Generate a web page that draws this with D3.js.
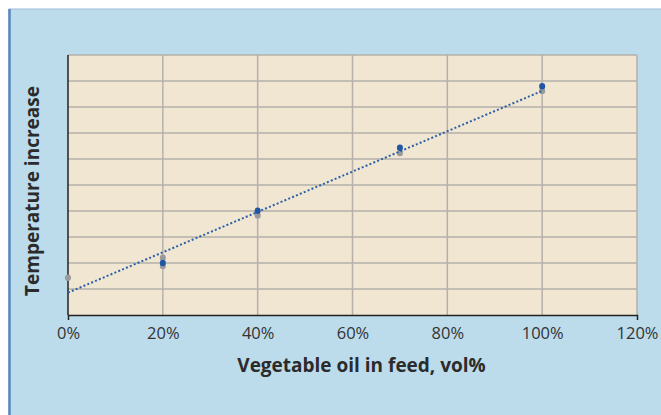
<!DOCTYPE html>
<meta charset="utf-8">
<script src="https://d3js.org/d3.v7.min.js"></script>
<style>
  body { margin: 0; background: #fff; }
  text { font-family: "Open Sans", sans-serif; }
</style>
<div id="my_dataviz"></div>
<script>

// data (y in gridline units, no labels on the y axis)
var xTicks = [0, 20, 40, 60, 80, 100, 120];
var blueX = [20, 40, 70, 100];
var blueY = [2.0, 4.01, 6.43, 8.8];
var grayX = [0, 20, 20, 40, 70, 100];
var grayY = [1.43, 2.2, 1.88, 3.83, 6.23, 8.62];
var trendX = [0, 100];
var trendY = [0.86, 8.62];

var W = 661, H = 415;
var margin = {top: 55, right: 24, bottom: 100, left: 68},
    width = 637 - margin.left,
    height = 315 - margin.top;

var root = d3.select("#my_dataviz")
  .append("svg")
    .attr("width", W)
    .attr("height", H);

// outer blue panel
root.append("rect")
  .attr("x", 9).attr("y", 9)
  .attr("width", W).attr("height", H)
  .attr("fill", "#bcdcec")
  .attr("stroke", "#9fbddb")
  .attr("stroke-width", 1);
root.append("line")
  .attr("x1", 9.5).attr("x2", 9.5)
  .attr("y1", 9).attr("y2", H)
  .attr("stroke", "#5b86bd")
  .attr("stroke-width", 2.5);

var svg = root.append("g")
  .attr("transform", "translate(" + margin.left + "," + margin.top + ")");

var x = d3.scaleLinear().domain([0, 120]).range([0, width]);
var y = d3.scaleLinear().domain([0, 10]).range([height, 0]);

// plot background
svg.append("rect")
  .attr("width", width).attr("height", height)
  .attr("fill", "#f0e6d2");

// gridlines
svg.append("g")
  .selectAll("line")
  .data(d3.range(1, 11))
  .enter().append("line")
    .attr("x1", 0).attr("x2", width)
    .attr("y1", function(d) { return y(d); })
    .attr("y2", function(d) { return y(d); })
    .attr("stroke", "#b5b1a9")
    .attr("stroke-width", 1.5);
svg.append("g")
  .selectAll("line")
  .data(xTicks.slice(1))
  .enter().append("line")
    .attr("x1", function(d) { return x(d); })
    .attr("x2", function(d) { return x(d); })
    .attr("y1", 0).attr("y2", height)
    .attr("stroke", "#b5b1a9")
    .attr("stroke-width", 1.5);

// x axis
var xAxis = svg.append("g")
  .attr("transform", "translate(0," + height + ")")
  .call(d3.axisBottom(x).tickValues(xTicks)
    .tickSizeInner(0).tickSizeOuter(5).tickPadding(12)
    .tickFormat(function(d) { return d + "%"; }));
xAxis.select(".domain").attr("stroke", "#222").attr("stroke-width", 1.5);
xAxis.selectAll("text")
  .style("font-size", "16.5px")
  .style("font-family", "'Open Sans', sans-serif")
  .attr("fill", "#333");

// y axis line
svg.append("line")
  .attr("x1", 0).attr("x2", 0)
  .attr("y1", 0).attr("y2", height)
  .attr("stroke", "#222")
  .attr("stroke-width", 1.5);

// axis titles
svg.append("text")
  .attr("x", width / 2 + 9).attr("y", height + 57)
  .style("text-anchor", "middle")
  .style("font-size", "19px")
  .style("font-weight", "bold")
  .attr("fill", "#2b2b2b")
  .text("Vegetable oil in feed, vol%");
svg.append("text")
  .attr("transform", "translate(-29," + (height / 2 + 6) + ") rotate(-90)")
  .style("text-anchor", "middle")
  .style("font-size", "19px")
  .style("font-weight", "bold")
  .attr("fill", "#2b2b2b")
  .text("Temperature increase");

// gray points
svg.append("g")
  .selectAll("ellipse")
  .data(grayX)
  .enter().append("ellipse")
    .attr("cx", function(d) { return x(d); })
    .attr("cy", function(d, i) { return y(grayY[i]); })
    .attr("rx", 3).attr("ry", 3.2)
    .attr("fill", "#9a9a9a");

// trend line
svg.append("path")
  .datum(trendX)
  .attr("d", d3.line()
    .x(function(d) { return x(d); })
    .y(function(d, i) { return y(trendY[i]); }))
  .attr("fill", "none")
  .attr("stroke", "#2a5fa8")
  .attr("stroke-width", 2)
  .attr("stroke-dasharray", "2,2.2");

// blue points
svg.append("g")
  .selectAll("ellipse")
  .data(blueX)
  .enter().append("ellipse")
    .attr("cx", function(d) { return x(d); })
    .attr("cy", function(d, i) { return y(blueY[i]); })
    .attr("rx", 3).attr("ry", 3.2)
    .attr("fill", "#1f57a4");

</script>
